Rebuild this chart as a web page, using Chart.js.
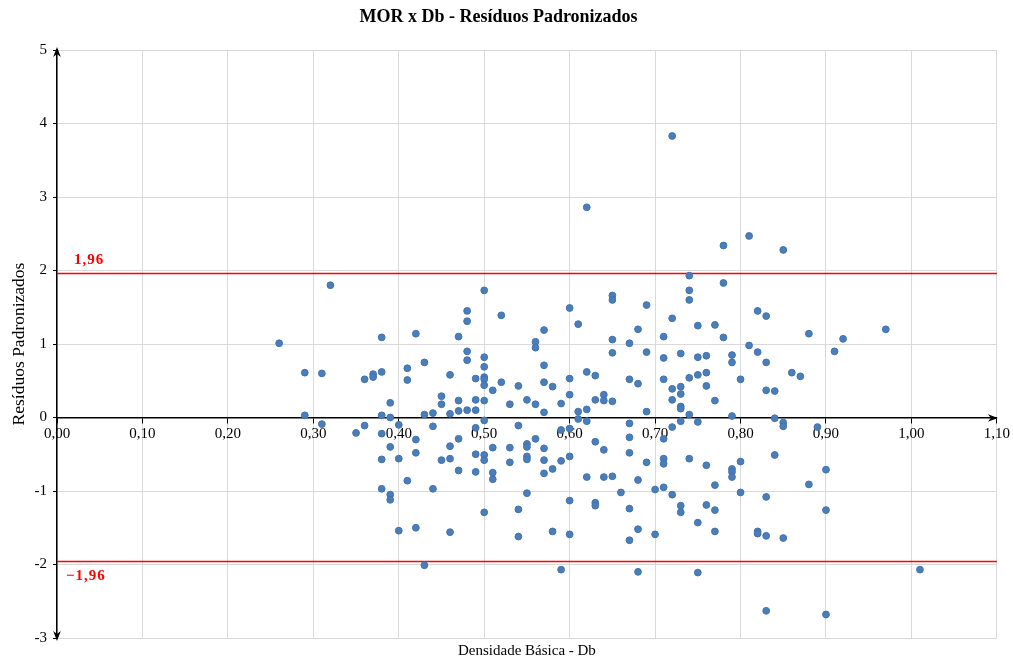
<!DOCTYPE html>
<html lang="pt-BR">
<head>
<meta charset="utf-8">
<title>MOR x Db - Resíduos Padronizados</title>
<script src="https://cdn.jsdelivr.net/npm/chart.js@4.4.1/dist/chart.umd.min.js"></script>
<style>
  html, body { margin: 0; padding: 0; background: #ffffff; }
  #wrap { width: 1013px; height: 660px; }
</style>
</head>
<body>
<div id="wrap"><canvas id="grafico" width="1013" height="660"></canvas></div>
<script>
// Densidade básica (Db) de cada corpo de prova
const densidade = [
  0.26,
  0.29, 0.29,
  0.31, 0.31,
  0.32,
  0.35,
  0.36, 0.36,
  0.37, 0.37,
  0.38, 0.38, 0.38, 0.38, 0.38, 0.38,
  0.39, 0.39, 0.39, 0.39, 0.39,
  0.40, 0.40, 0.40,
  0.41, 0.41, 0.41,
  0.42, 0.42, 0.42, 0.42,
  0.43, 0.43, 0.43,
  0.44, 0.44, 0.44,
  0.45, 0.45, 0.45,
  0.46, 0.46, 0.46, 0.46, 0.46,
  0.47, 0.47, 0.47, 0.47, 0.47,
  0.48, 0.48, 0.48, 0.48, 0.48,
  0.49, 0.49, 0.49, 0.49, 0.49, 0.49,
  0.50, 0.50, 0.50, 0.50, 0.50, 0.50, 0.50, 0.50, 0.50, 0.50, 0.50,
  0.51, 0.51, 0.51, 0.51,
  0.52, 0.52,
  0.53, 0.53, 0.53,
  0.54, 0.54, 0.54, 0.54,
  0.55, 0.55, 0.55, 0.55, 0.55, 0.55,
  0.56, 0.56, 0.56, 0.56,
  0.57, 0.57, 0.57, 0.57, 0.57, 0.57, 0.57,
  0.58, 0.58, 0.58,
  0.59, 0.59, 0.59, 0.59,
  0.60, 0.60, 0.60, 0.60, 0.60, 0.60, 0.60,
  0.61, 0.61, 0.61,
  0.62, 0.62, 0.62, 0.62, 0.62,
  0.63, 0.63, 0.63, 0.63, 0.63,
  0.64, 0.64, 0.64, 0.64,
  0.65, 0.65, 0.65, 0.65, 0.65, 0.65,
  0.66,
  0.67, 0.67, 0.67, 0.67, 0.67, 0.67, 0.67,
  0.68, 0.68, 0.68, 0.68, 0.68,
  0.69, 0.69, 0.69, 0.69,
  0.70, 0.70,
  0.71, 0.71, 0.71, 0.71, 0.71, 0.71, 0.71,
  0.72, 0.72, 0.72, 0.72, 0.72, 0.72,
  0.73, 0.73, 0.73, 0.73, 0.73, 0.73, 0.73, 0.73,
  0.74, 0.74, 0.74, 0.74, 0.74, 0.74,
  0.75, 0.75, 0.75, 0.75, 0.75, 0.75,
  0.76, 0.76, 0.76, 0.76, 0.76,
  0.77, 0.77, 0.77, 0.77, 0.77,
  0.78, 0.78, 0.78,
  0.79, 0.79, 0.79, 0.79, 0.79, 0.79,
  0.80, 0.80, 0.80,
  0.81, 0.81,
  0.82, 0.82, 0.82, 0.82,
  0.83, 0.83, 0.83, 0.83, 0.83, 0.83,
  0.84, 0.84, 0.84,
  0.85, 0.85, 0.85, 0.85,
  0.86,
  0.87,
  0.88, 0.88,
  0.89,
  0.90, 0.90, 0.90,
  0.91,
  0.92,
  0.97,
  1.01
];

// Resíduo padronizado do modelo MOR x Db, na mesma ordem
const residuos = [
  1.01,
  0.61, 0.03,
  0.60, -0.09,
  1.80,
  -0.21,
  0.52, -0.11,
  0.59, 0.55,
  1.09, 0.62, 0.03, -0.22, -0.57, -0.97,
  0.20, 0.00, -0.40, -1.05, -1.12,
  -0.10, -0.56, -1.54,
  0.67, 0.51, -0.86,
  1.14, -0.30, -0.48, -1.50,
  0.75, 0.04, -2.01,
  0.06, -0.12, -0.97,
  0.29, 0.18, -0.58,
  0.58, 0.05, -0.39, -0.56, -1.56,
  1.10, 0.23, 0.09, -0.29, -0.72,
  1.45, 1.31, 0.90, 0.78, 0.10,
  0.53, 0.24, 0.10, -0.14, -0.50, -0.74,
  1.73, 0.82, 0.69, 0.55, 0.52, 0.44, 0.23, -0.04, -0.51, -0.58, -1.29,
  0.37, -0.41, -0.75, -0.84,
  1.39, 0.48,
  0.18, -0.41, -0.61,
  0.43, -0.11, -1.25, -1.62,
  0.24, -0.36, -0.40, -0.53, -0.57, -1.03,
  1.03, 0.95, 0.18, -0.29,
  1.19, 0.71, 0.48, 0.07, -0.42, -0.58, -0.76,
  0.42, -0.70, -1.55,
  0.19, -0.17, -0.59, -2.07,
  1.49, 0.53, 0.31, -0.15, -0.53, -1.13, -1.59,
  1.27, 0.08, -0.02,
  2.86, 0.62, 0.11, -0.05, -0.81,
  0.57, 0.24, -0.33, -1.16, -1.20,
  0.31, 0.23, -0.44, -0.81,
  1.66, 1.60, 1.06, 0.88, 0.22, -0.80,
  -1.02,
  1.01, 0.52, -0.08, -0.27, -0.48, -1.24, -1.67,
  1.20, 0.46, -0.85, -1.52, -2.10,
  1.53, 0.89, 0.08, -0.61,
  -0.98, -1.59,
  1.10, 0.81, 0.52, -0.29, -0.56, -0.63, -0.95,
  3.83, 1.35, 0.39, 0.24, -0.13, -1.05,
  0.87, 0.42, 0.32, 0.15, 0.12, -0.05, -1.20, -1.29,
  1.93, 1.73, 1.60, 0.54, 0.04, -0.56,
  1.25, 0.82, 0.58, -0.06, -1.43, -2.11,
  0.84, 0.61, 0.43, -0.65, -1.19,
  1.26, 0.23, -0.92, -1.26, -1.55,
  2.34, 1.83, 1.09,
  0.85, 0.75, 0.02, -0.70, -0.74, -0.81,
  0.52, -0.60, -1.02,
  2.47, 0.98,
  1.45, 0.89, -1.55, -1.58,
  1.38, 0.75, 0.37, -1.08, -1.61, -2.63,
  0.36, -0.01, -0.51,
  2.28, -0.07, -0.12, -1.64,
  0.61,
  0.56,
  1.14, -0.91,
  -0.13,
  -0.71, -1.26, -2.68,
  0.90,
  1.07,
  1.20,
  -2.07
];

// Limites de ±1,96 desvios-padrão
const limiteSuperior = 1.96;
const limiteInferior = -1.96;

// Faixas dos eixos
const faixaX = [0, 1.1];
const faixaY = [-3, 5];
const passoX = 0.1;
const passoY = 1;

const pontos = densidade.map((d, i) => ({ x: d, y: residuos[i] }));
const virgula = (v, casas) => v.toFixed(casas).replace('.', ',');
const rotuloLimite = v => (v < 0 ? '\u2212' : '') + virgula(Math.abs(v), 2);

const serif = '"Liberation Serif", "Times New Roman", serif';
Chart.defaults.font.family = serif;
Chart.defaults.color = '#000000';

// Setas nos eixos e rótulos das linhas-limite
const decoracaoEixos = {
  id: 'decoracaoEixos',
  afterDraw(chart) {
    const { ctx, chartArea: a, scales: { x, y } } = chart;
    const x0 = Math.round(x.getPixelForValue(0));
    const y0 = Math.round(y.getPixelForValue(0));
    ctx.save();
    ctx.fillStyle = '#000000';
    const seta = (px, py, dx, dy) => {
      const c = 10, l = 3.8;
      ctx.beginPath();
      ctx.moveTo(px, py);
      ctx.lineTo(px - dx * c - dy * l, py - dy * c - dx * l);
      ctx.lineTo(px - dx * c * 0.7, py - dy * c * 0.7);
      ctx.lineTo(px - dx * c + dy * l, py - dy * c + dx * l);
      ctx.closePath();
      ctx.fill();
    };
    seta(x0, a.top - 3, 0, -1);
    seta(x0, a.bottom + 3, 0, 1);
    seta(a.right + 1, y0, 1, 0);

    ctx.fillStyle = '#ff0000';
    ctx.font = 'bold 15px ' + serif;
    ctx.textBaseline = 'middle';
    ctx.textAlign = 'left';
    ctx.letterSpacing = '1px';
    ctx.fillText(rotuloLimite(limiteSuperior), x0 + 17, y.getPixelForValue(limiteSuperior) - 13);
    ctx.fillText(rotuloLimite(limiteInferior), x0 + 9, y.getPixelForValue(limiteInferior) + 15);
    ctx.restore();
  }
};

new Chart(document.getElementById('grafico'), {
  data: {
    datasets: [
      {
        type: 'scatter',
        label: 'Resíduos',
        data: pontos,
        pointRadius: 3.4,
        pointBackgroundColor: '#4a7ebb',
        pointBorderColor: '#4272ad',
        pointBorderWidth: 1,
        order: 0
      },
      {
        type: 'line',
        label: 'Limite superior',
        data: [{ x: faixaX[0], y: limiteSuperior }, { x: faixaX[1], y: limiteSuperior }],
        borderColor: '#ff0000',
        borderWidth: 1.5,
        pointRadius: 0,
        order: 1
      },
      {
        type: 'line',
        label: 'Limite inferior',
        data: [{ x: faixaX[0], y: limiteInferior }, { x: faixaX[1], y: limiteInferior }],
        borderColor: '#ff0000',
        borderWidth: 1.5,
        pointRadius: 0,
        order: 1
      }
    ]
  },
  options: {
    responsive: false,
    animation: false,
    devicePixelRatio: 1,
    layout: { padding: { left: 0, right: 16, top: 0, bottom: 0 } },
    plugins: {
      legend: { display: false },
      tooltip: { enabled: false },
      title: {
        display: true,
        text: 'MOR x Db - Resíduos Padronizados',
        font: { family: serif, size: 18, weight: 'bold' },
        color: '#000000',
        padding: { top: 7, bottom: 21.4 }
      },
      subtitle: {
        display: true,
        position: 'bottom',
        fullSize: false,
        text: 'Densidade Básica - Db',
        font: { family: serif, size: 15, weight: 'normal' },
        color: '#000000',
        padding: { top: 4, bottom: 0 }
      }
    },
    scales: {
      x: {
        type: 'linear',
        min: faixaX[0],
        max: faixaX[1],
        position: { y: 0 },
        grid: { color: '#d9d9d9', lineWidth: 1, tickColor: '#000000', tickLength: 5 },
        border: { color: '#000000', width: 1.5 },
        ticks: {
          stepSize: passoX,
          padding: 3,
          font: { family: serif, size: 15 },
          color: '#000000',
          maxRotation: 0,
          callback: v => virgula(v, 2)
        }
      },
      y: {
        type: 'linear',
        min: faixaY[0],
        max: faixaY[1],
        position: 'left',
        afterFit(scale) { scale.width = 57; },
        grid: { color: '#d9d9d9', lineWidth: 1, tickColor: '#000000', tickLength: 4 },
        border: { color: '#000000', width: 1.5 },
        title: {
          display: true,
          text: 'Resíduos Padronizados',
          font: { family: serif, size: 17.5 },
          color: '#000000',
          padding: { top: 9, bottom: 0 }
        },
        ticks: {
          stepSize: passoY,
          padding: 6,
          font: { family: serif, size: 15 },
          color: '#000000',
          callback: v => String(v)
        }
      }
    }
  },
  plugins: [decoracaoEixos]
});
</script>
</body>
</html>
